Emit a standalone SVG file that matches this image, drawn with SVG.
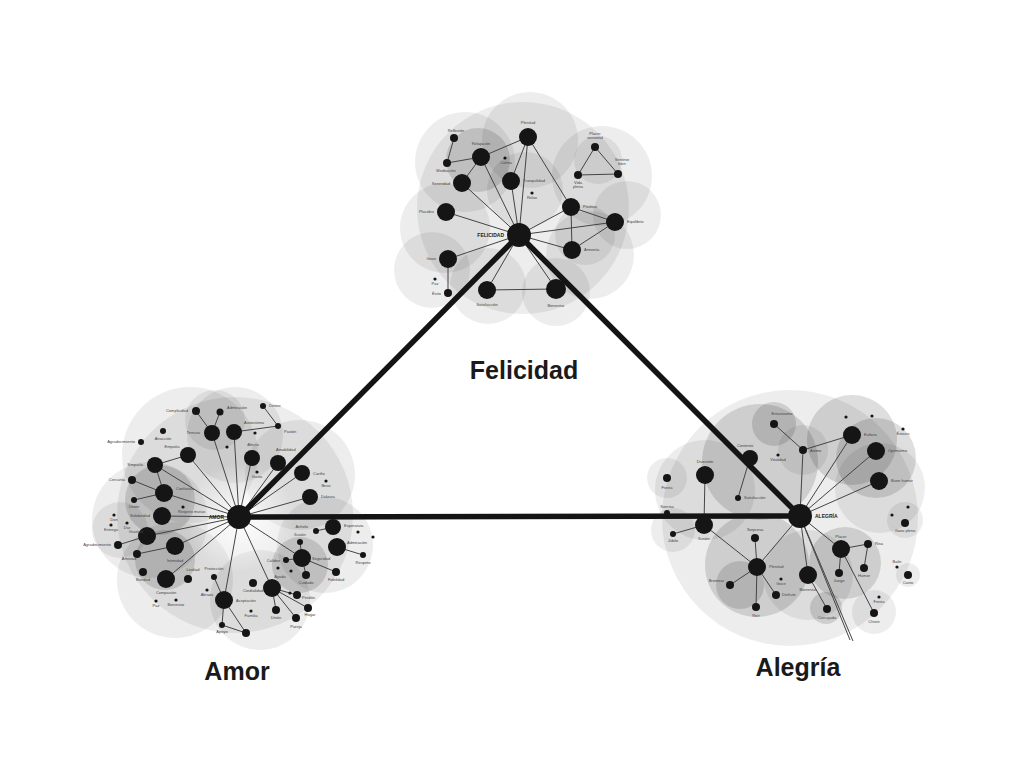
<svg xmlns="http://www.w3.org/2000/svg" width="1024" height="768" viewBox="0 0 1024 768">
<defs>
<radialGradient id="glow">
<stop offset="0" stop-color="#fff" stop-opacity=".9"/>
<stop offset="1" stop-color="#fff" stop-opacity="0"/>
</radialGradient>
</defs>
<style>
.bg{fill:#000;fill-opacity:.07}
.bd{fill:#000;fill-opacity:.13}
.n{fill:#151515}
.e{stroke:#444;stroke-width:1;fill:none}
.m{stroke:#141414;stroke-width:5.5;stroke-linecap:round;fill:none}
.t{font-family:"Liberation Sans",Arial,sans-serif;font-size:4px;fill:#444}
.tr{text-anchor:end}
.tc{text-anchor:middle}
.h{font-family:"Liberation Sans",Arial,sans-serif;font-size:5px;font-weight:bold;fill:#222}
.ti{font-family:"Liberation Sans",Arial,sans-serif;font-size:25px;font-weight:bold;fill:#1a1a1a;text-anchor:middle}
</style>
<rect width="1024" height="768" fill="#fff"/>
<g id="background">
<!-- Felicidad -->
<circle class="bg" cx="523" cy="208" r="106"/>
<circle class="bg" cx="530" cy="140" r="48"/>
<circle class="bg" cx="465" cy="162" r="50"/>
<circle class="bg" cx="445" cy="228" r="45"/>
<circle class="bg" cx="432" cy="270" r="38"/>
<circle class="bg" cx="602" cy="176" r="50"/>
<circle class="bg" cx="627" cy="215" r="34"/>
<circle class="bg" cx="590" cy="255" r="44"/>
<circle class="bg" cx="556" cy="292" r="34"/>
<circle class="bg" cx="488" cy="286" r="38"/>
<circle class="bd" cx="478" cy="160" r="32"/>
<circle class="bg" cx="525" cy="190" r="38"/>
<circle class="bg" cx="598" cy="160" r="24"/>
<circle class="bg" cx="585" cy="235" r="30"/>
<!-- Amor -->
<circle class="bg" cx="235" cy="515" r="118"/>
<circle class="bg" cx="190" cy="455" r="68"/>
<circle class="bg" cx="150" cy="520" r="58"/>
<circle class="bg" cx="175" cy="580" r="58"/>
<circle class="bg" cx="235" cy="435" r="48"/>
<circle class="bg" cx="300" cy="475" r="55"/>
<circle class="bg" cx="325" cy="545" r="48"/>
<circle class="bg" cx="260" cy="600" r="50"/>
<circle class="bd" cx="160" cy="500" r="35"/>
<circle class="bd" cx="165" cy="560" r="30"/>
<circle class="bd" cx="300" cy="565" r="28"/>
<circle class="bg" cx="215" cy="420" r="30"/>
<circle class="bg" cx="120" cy="530" r="28"/>
<circle cx="240" cy="517" r="55" fill="url(#glow)"/>
<!-- Alegria -->
<circle class="bg" cx="790" cy="518" r="128"/>
<circle class="bd" cx="760" cy="462" r="58"/>
<circle class="bg" cx="705" cy="490" r="50"/>
<circle class="bd" cx="852" cy="440" r="45"/>
<circle class="bd" cx="876" cy="458" r="40"/>
<circle class="bg" cx="880" cy="488" r="45"/>
<circle class="bd" cx="757" cy="565" r="52"/>
<circle class="bg" cx="808" cy="575" r="45"/>
<circle class="bd" cx="845" cy="563" r="36"/>
<circle class="bg" cx="667" cy="478" r="20"/>
<circle class="bg" cx="905" cy="520" r="18"/>
<circle class="bg" cx="908" cy="575" r="12"/>
<circle class="bg" cx="874" cy="612" r="22"/>
<circle class="bd" cx="774" cy="424" r="22"/>
<circle class="bg" cx="803" cy="450" r="25"/>
<circle class="bg" cx="673" cy="530" r="22"/>
<circle class="bd" cx="740" cy="585" r="24"/>
<circle class="bd" cx="826" cy="608" r="16"/>
</g>
<g id="connectors">
<!-- Felicidad edges -->
<path class="e" d="M519 235L528 137M519 235L481 157M519 235L511 181M519 235L462 183M519 235L446 212M519 235L448 259M519 235L571 207M519 235L615 222M519 235L572 250M519 235L487 290M519 235L556 289"/>
<path class="e" d="M528 137L481 157M528 137L511 181M528 137L571 207M481 157L462 183M481 157L447 163M454 138L447 163M571 207L615 222M571 207L572 250M572 250L615 222M487 290L556 289M448 259L448 293M595 147L578 175M595 147L618 174M578 175L618 174"/>
<!-- Amor edges -->
<path class="e" d="M239 517L212 433M239 517L234 432M239 517L188 455M239 517L252 458M239 517L278 463M239 517L302 473M239 517L310 497M239 517L164 493M239 517L162 516M239 517L147 536M239 517L175 546M239 517L166 579M239 517L224 600M239 517L302 558M239 517L272 588M239 517L155 465"/>
<path class="e" d="M196 411L212 433M220 412L212 433M263 406L278 426M278 426L234 432M155 465L188 455M155 465L164 493M132 480L164 493M134 500L164 493M147 536L118 545M137 554L175 546M224 600L222 625M224 600L246 633M222 625L246 633M214 577L224 600M302 558L286 560M302 558L300 542M302 558L306 575M302 558L336 572M337 547L363 555M272 588L297 595M272 588L276 610M272 588L308 608M272 588L296 618M333 527L316 531"/>
<!-- Alegria edges -->
<path class="e" d="M800 516L803 450M800 516L852 435M800 516L876 451M800 516L879 481M800 516L841 549M800 516L757 567M800 516L808 575M800 516L850 640M800 516L853 641M774 424L803 450M803 450L852 435M750 458L738 498M705 475L704 525M704 525L673 534M704 525L757 567M757 567L730 585M757 567L776 595M757 567L756 607M757 567L755 538M808 575L827 609M841 549L868 544M868 544L864 568M841 549L839 573M841 549L874 613"/>
<!-- main triangle -->
<path class="m" d="M519 235L239 517L800 516Z"/>
</g>
<!-- Felicidad nodes -->
<g id="felicidad-hub"><circle class="n" cx="519" cy="235" r="12"/><text class="h tr" x="504" y="237">FELICIDAD</text></g>
<g id="f-plenitud"><circle class="n" cx="528" cy="137" r="9"/><text class="t tc" x="528" y="124">Plenitud</text></g>
<g id="f-reflexion"><circle class="n" cx="454" cy="138" r="4"/><text class="t tc" x="456" y="132">Reflexión</text></g>
<g id="f-meditacion"><circle class="n" cx="447" cy="163" r="4"/><text class="t tc" x="446" y="172">Meditación</text></g>
<g id="f-relajacion"><circle class="n" cx="481" cy="157" r="9"/><text class="t tc" x="481" y="145">Relajación</text></g>
<g id="f-calma"><circle class="n" cx="505" cy="158" r="1.6"/><text class="t tc" x="506" y="164">Calma</text></g>
<g id="f-tranquilidad"><circle class="n" cx="511" cy="181" r="9"/><text class="t" x="523" y="182">Tranquilidad</text></g>
<g id="f-serenidad"><circle class="n" cx="462" cy="183" r="9"/><text class="t tr" x="450" y="185">Serenidad</text></g>
<g id="f-relax"><circle class="n" cx="532" cy="193" r="1.6"/><text class="t tc" x="532" y="199">Relax</text></g>
<g id="f-placidez"><circle class="n" cx="446" cy="212" r="9"/><text class="t tr" x="434" y="213">Placidez</text></g>
<g id="f-positivo"><circle class="n" cx="571" cy="207" r="9"/><text class="t" x="583" y="208">Positivo</text></g>
<g id="f-equilibrio"><circle class="n" cx="615" cy="222" r="9"/><text class="t" x="627" y="223">Equilibrio</text></g>
<g id="f-armonia"><circle class="n" cx="572" cy="250" r="9"/><text class="t" x="584" y="251">Armonía</text></g>
<g id="f-gozo"><circle class="n" cx="448" cy="259" r="9"/><text class="t tr" x="436" y="260">Gozo</text></g>
<g id="f-paz"><circle class="n" cx="435" cy="279" r="1.6"/><text class="t tc" x="435" y="285">Paz</text></g>
<g id="f-exito"><circle class="n" cx="448" cy="293" r="4"/><text class="t tr" x="441" y="295">Éxito</text></g>
<g id="f-satisfaccion"><circle class="n" cx="487" cy="290" r="9"/><text class="t tc" x="487" y="306">Satisfacción</text></g>
<g id="f-bienestar"><circle class="n" cx="556" cy="289" r="10"/><text class="t tc" x="556" y="307">Bienestar</text></g>
<g id="f-placer"><circle class="n" cx="595" cy="147" r="4"/><text class="t tc" x="595" y="135">Placer</text><text class="t tc" x="595" y="139">sensorial</text></g>
<g id="f-vida"><circle class="n" cx="578" cy="175" r="4"/><text class="t tc" x="578" y="184">Vida</text><text class="t tc" x="578" y="188">plena</text></g>
<g id="f-sentirse"><circle class="n" cx="618" cy="174" r="4"/><text class="t tc" x="622" y="161">Sentirse</text><text class="t tc" x="622" y="165">bien</text></g>
<!-- Amor nodes -->
<g id="amor-hub"><circle class="n" cx="239" cy="517" r="12"/><text class="h tr" x="224" y="519">AMOR</text></g>
<g id="a-complicidad"><circle class="n" cx="196" cy="411" r="4"/><text class="t tr" x="188" y="412">Complicidad</text></g>
<g id="a-admiracion1"><circle class="n" cx="220" cy="412" r="3.5"/><text class="t" x="227" y="409">Admiración</text></g>
<g id="a-ternura"><circle class="n" cx="212" cy="433" r="8"/><text class="t tr" x="200" y="434">Ternura</text></g>
<g id="a-autoestima"><circle class="n" cx="234" cy="432" r="8"/><text class="t" x="244" y="424">Autoestima</text></g>
<g id="a-atraccion"><circle class="n" cx="163" cy="431" r="3"/><text class="t tc" x="163" y="440">Atracción</text></g>
<g id="a-agradec1"><circle class="n" cx="141" cy="442" r="3"/><text class="t tr" x="135" y="443">Agradecimiento</text></g>
<g id="a-empatia"><circle class="n" cx="188" cy="455" r="8"/><text class="t tc" x="172" y="448">Empatía</text></g>
<g id="a-simpatia"><circle class="n" cx="155" cy="465" r="8"/><text class="t tr" x="143" y="466">Simpatía</text></g>
<g id="a-d1"><circle class="n" cx="227" cy="447" r="1.6"/></g>
<g id="a-afecto"><circle class="n" cx="252" cy="458" r="8"/><text class="t tc" x="253" y="446">Afecto</text></g>
<g id="a-amabilidad"><circle class="n" cx="278" cy="463" r="8"/><text class="t" x="276" y="451">Amabilidad</text></g>
<g id="a-deseo"><circle class="n" cx="263" cy="406" r="3"/><text class="t" x="269" y="407">Deseo</text></g>
<g id="a-pasion"><circle class="n" cx="278" cy="426" r="3"/><text class="t" x="284" y="433">Pasión</text></g>
<g id="a-d2"><circle class="n" cx="255" cy="433" r="1.6"/></g>
<g id="a-d3"><circle class="n" cx="257" cy="472" r="1.6"/><text class="t tc" x="257" y="478">Gusto</text></g>
<g id="a-carino"><circle class="n" cx="302" cy="473" r="8"/><text class="t" x="313" y="475">Cariño</text></g>
<g id="a-d4"><circle class="n" cx="326" cy="481" r="1.6"/><text class="t tc" x="326" y="487">Beso</text></g>
<g id="a-dulzura"><circle class="n" cx="310" cy="497" r="8"/><text class="t" x="321" y="498">Dulzura</text></g>
<g id="a-cercania"><circle class="n" cx="132" cy="480" r="4"/><text class="t tr" x="125" y="481">Cercanía</text></g>
<g id="a-union1"><circle class="n" cx="134" cy="500" r="3"/><text class="t tc" x="134" y="508">Unión</text></g>
<g id="a-confianza"><circle class="n" cx="164" cy="493" r="9"/><text class="t" x="176" y="490">Confianza</text></g>
<g id="a-respeto"><circle class="n" cx="183" cy="507" r="1.6"/><text class="t" x="178" y="513">Respeto mutuo</text></g>
<g id="a-solidaridad"><circle class="n" cx="162" cy="516" r="9"/><text class="t tr" x="150" y="517">Solidaridad</text></g>
<g id="a-d5"><circle class="n" cx="114" cy="515" r="1.6"/><text class="t tc" x="114" y="521">Don</text></g>
<g id="a-d6"><circle class="n" cx="111" cy="525" r="1.6"/><text class="t tc" x="111" y="531">Entrega</text></g>
<g id="a-d7"><circle class="n" cx="127" cy="523" r="1.6"/><text class="t tc" x="127" y="529">Dar</text></g>
<g id="a-gratitud"><circle class="n" cx="147" cy="536" r="9"/><text class="t tr" x="143" y="533">Gratitud</text></g>
<g id="a-agradec2"><circle class="n" cx="118" cy="545" r="4"/><text class="t tr" x="111" y="546">Agradecimiento</text></g>
<g id="a-amistad"><circle class="n" cx="137" cy="554" r="4"/><text class="t tc" x="129" y="560">Amistad</text></g>
<g id="a-intimidad"><circle class="n" cx="175" cy="546" r="9"/><text class="t tc" x="175" y="562">Intimidad</text></g>
<g id="a-bondad"><circle class="n" cx="143" cy="572" r="4"/><text class="t tc" x="143" y="581">Bondad</text></g>
<g id="a-compasion"><circle class="n" cx="166" cy="579" r="9"/><text class="t tc" x="166" y="594">Compasión</text></g>
<g id="a-n1"><circle class="n" cx="188" cy="579" r="4"/><text class="t tc" x="193" y="571">Lealtad</text></g>
<g id="a-d8"><circle class="n" cx="156" cy="601" r="1.6"/><text class="t tc" x="156" y="607">Paz</text></g>
<g id="a-d9"><circle class="n" cx="176" cy="600" r="1.6"/><text class="t tc" x="176" y="606">Bienestar</text></g>
<g id="a-proteccion"><circle class="n" cx="214" cy="577" r="3"/><text class="t tc" x="214" y="570">Protección</text></g>
<g id="a-d10"><circle class="n" cx="207" cy="590" r="1.6"/><text class="t tc" x="207" y="596">Abrazo</text></g>
<g id="a-aceptacion"><circle class="n" cx="224" cy="600" r="9"/><text class="t" x="236" y="602">Aceptación</text></g>
<g id="a-apoyo"><circle class="n" cx="222" cy="625" r="3"/><text class="t tc" x="222" y="633">Apoyo</text></g>
<g id="a-n2"><circle class="n" cx="246" cy="633" r="4"/></g>
<g id="a-esperanza"><circle class="n" cx="333" cy="527" r="8"/><text class="t" x="344" y="527">Esperanza</text></g>
<g id="a-anhelo"><circle class="n" cx="316" cy="531" r="3"/><text class="t tr" x="308" y="528">Anhelo</text></g>
<g id="a-admiracion2"><circle class="n" cx="337" cy="547" r="9"/><text class="t" x="347" y="544">Admiración</text></g>
<g id="a-respeto2"><circle class="n" cx="363" cy="555" r="3"/><text class="t tc" x="363" y="564">Respeto</text></g>
<g id="a-d11"><circle class="n" cx="358" cy="532" r="1.6"/></g>
<g id="a-d12"><circle class="n" cx="373" cy="537" r="1.6"/></g>
<g id="a-ilusion"><circle class="n" cx="300" cy="542" r="3"/><text class="t tc" x="300" y="536">Ilusión</text></g>
<g id="a-seguridad"><circle class="n" cx="302" cy="558" r="9"/><text class="t" x="312" y="560">Seguridad</text></g>
<g id="a-n3"><circle class="n" cx="286" cy="560" r="3"/><text class="t tr" x="280" y="562">Calidez</text></g>
<g id="a-d13"><circle class="n" cx="278" cy="568" r="1.6"/></g>
<g id="a-d14"><circle class="n" cx="291" cy="571" r="1.6"/></g>
<g id="a-n4"><circle class="n" cx="306" cy="575" r="4"/><text class="t tc" x="306" y="584">Cuidado</text></g>
<g id="a-fidelidad"><circle class="n" cx="336" cy="572" r="4"/><text class="t tc" x="336" y="581">Fidelidad</text></g>
<g id="a-cuidado"><circle class="n" cx="272" cy="588" r="9"/><text class="t tc" x="280" y="578">Ayuda</text></g>
<g id="a-n5"><circle class="n" cx="253" cy="583" r="4"/><text class="t tc" x="253" y="592">Cordialidad</text></g>
<g id="a-d15"><circle class="n" cx="290" cy="593" r="1.6"/></g>
<g id="a-n6"><circle class="n" cx="297" cy="595" r="4"/><text class="t" x="302" y="599">Perdón</text></g>
<g id="a-n7"><circle class="n" cx="276" cy="610" r="4"/><text class="t tc" x="276" y="619">Unión</text></g>
<g id="a-n8"><circle class="n" cx="308" cy="608" r="4"/><text class="t tc" x="310" y="616">Hogar</text></g>
<g id="a-pareja"><circle class="n" cx="296" cy="618" r="4"/><text class="t tc" x="296" y="628">Pareja</text></g>
<g id="a-d16"><circle class="n" cx="251" cy="611" r="1.6"/><text class="t tc" x="251" y="617">Familia</text></g>
<!-- Alegria nodes -->
<g id="alegria-hub"><circle class="n" cx="800" cy="516" r="12"/><text class="h" x="815" y="518">ALEGRÍA</text></g>
<g id="g-entusiasmo"><circle class="n" cx="774" cy="424" r="4"/><text class="t tc" x="782" y="415">Entusiasmo</text></g>
<g id="g-animo"><circle class="n" cx="803" cy="450" r="4"/><text class="t" x="810" y="452">Ánimo</text></g>
<g id="g-d1"><circle class="n" cx="778" cy="455" r="1.6"/><text class="t tc" x="778" y="461">Vitalidad</text></g>
<g id="g-euforia"><circle class="n" cx="852" cy="435" r="9"/><text class="t" x="864" y="436">Euforia</text></g>
<g id="g-d2"><circle class="n" cx="846" cy="417" r="1.6"/></g>
<g id="g-d3"><circle class="n" cx="872" cy="416" r="1.6"/></g>
<g id="g-d4"><circle class="n" cx="903" cy="429" r="1.6"/><text class="t tc" x="903" y="435">Éxtasis</text></g>
<g id="g-optimismo"><circle class="n" cx="876" cy="451" r="9"/><text class="t" x="888" y="452">Optimismo</text></g>
<g id="g-buenhumor"><circle class="n" cx="879" cy="481" r="9"/><text class="t" x="891" y="482">Buen humor</text></g>
<g id="g-contento"><circle class="n" cx="750" cy="458" r="8"/><text class="t tc" x="745" y="447">Contento</text></g>
<g id="g-diversion"><circle class="n" cx="705" cy="475" r="9"/><text class="t tc" x="705" y="463">Diversión</text></g>
<g id="g-fiesta"><circle class="n" cx="667" cy="478" r="4"/><text class="t tc" x="667" y="489">Fiesta</text></g>
<g id="g-satisf"><circle class="n" cx="738" cy="498" r="3"/><text class="t" x="744" y="499">Satisfacción</text></g>
<g id="g-sonrisa"><circle class="n" cx="667" cy="513" r="3"/><text class="t tc" x="667" y="508">Sonrisa</text></g>
<g id="g-jubilo"><circle class="n" cx="673" cy="534" r="3"/><text class="t tc" x="673" y="542">Júbilo</text></g>
<g id="g-ilusion"><circle class="n" cx="704" cy="525" r="9"/><text class="t tc" x="704" y="540">Ilusión</text></g>
<g id="g-d5"><circle class="n" cx="908" cy="507" r="1.6"/></g>
<g id="g-d6"><circle class="n" cx="892" cy="515" r="1.6"/></g>
<g id="g-gozo"><circle class="n" cx="905" cy="523" r="4"/><text class="t tc" x="905" y="532">Gozo pleno</text></g>
<g id="g-placer"><circle class="n" cx="841" cy="549" r="9"/><text class="t tc" x="841" y="538">Placer</text></g>
<g id="g-risa"><circle class="n" cx="868" cy="544" r="4"/><text class="t" x="875" y="545">Risa</text></g>
<g id="g-n1"><circle class="n" cx="864" cy="568" r="4"/><text class="t tc" x="864" y="577">Humor</text></g>
<g id="g-n2"><circle class="n" cx="839" cy="573" r="4"/><text class="t tc" x="839" y="582">Juego</text></g>
<g id="g-d7"><circle class="n" cx="897" cy="567" r="1.6"/><text class="t tc" x="897" y="563">Baile</text></g>
<g id="g-n3"><circle class="n" cx="908" cy="575" r="4"/><text class="t tc" x="908" y="584">Canto</text></g>
<g id="g-sorpresa"><circle class="n" cx="755" cy="538" r="4"/><text class="t tc" x="755" y="531">Sorpresa</text></g>
<g id="g-plenas"><circle class="n" cx="757" cy="567" r="9"/><text class="t" x="769" y="568">Plenitud</text></g>
<g id="g-bienestar"><circle class="n" cx="808" cy="575" r="9"/><text class="t tc" x="808" y="591">Bienestar</text></g>
<g id="g-d8"><circle class="n" cx="781" cy="579" r="1.6"/><text class="t tc" x="781" y="585">Goce</text></g>
<g id="g-bromear"><circle class="n" cx="730" cy="585" r="4"/><text class="t tr" x="724" y="582">Bromear</text></g>
<g id="g-disfrute"><circle class="n" cx="776" cy="595" r="4"/><text class="t" x="782" y="596">Disfrute</text></g>
<g id="g-reir"><circle class="n" cx="756" cy="607" r="4"/><text class="t tc" x="756" y="617">Reír</text></g>
<g id="g-carcajada"><circle class="n" cx="827" cy="609" r="4"/><text class="t tc" x="827" y="619">Carcajada</text></g>
<g id="g-d9"><circle class="n" cx="879" cy="597" r="1.6"/><text class="t tc" x="879" y="603">Fiesta</text></g>
<g id="g-chiste"><circle class="n" cx="874" cy="613" r="4"/><text class="t tc" x="874" y="623">Chiste</text></g>
<!-- Titles -->
<g id="title-felicidad"><text class="ti" x="524" y="379">Felicidad</text></g>
<g id="title-amor"><text class="ti" x="237" y="680">Amor</text></g>
<g id="title-alegria"><text class="ti" x="798" y="676">Alegría</text></g>
</svg>
